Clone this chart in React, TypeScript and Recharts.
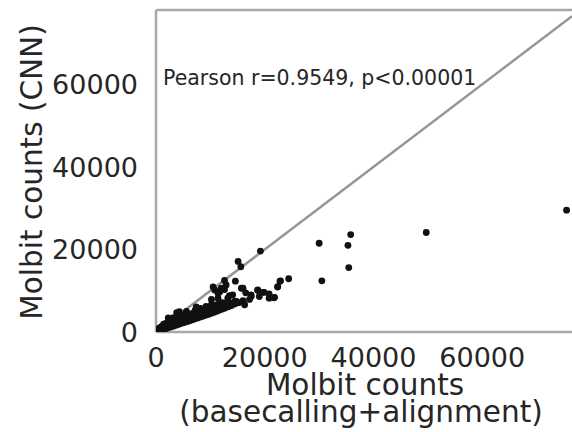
import React from "react"
import { ScatterChart, Scatter, XAxis, YAxis, ReferenceLine } from "recharts"

// outliers and the dense band near the origin
const outlierX = [75500, 49700, 35800, 35300, 30000, 35450, 30500, 24400, 22900, 19200, 15100, 15600, 22800, 22400, 12600, 14600, 10500, 11700, 12600, 16000, 16500, 18700, 19900, 21800, 17200, 13500, 14800, 16300, 10200, 11400, 4300, 2250, 10800, 12000, 11400, 12900, 20800, 17500, 19000, 22350, 18700, 19600, 20800, 21700, 17500, 15700, 14100, 13200, 3800, 5600, 7400]
const outlierY = [29500, 24100, 23600, 21000, 21500, 15600, 12400, 12900, 12400, 19600, 17100, 15800, 12300, 11000, 12500, 12300, 10900, 9700, 10300, 10600, 9500, 10200, 9600, 8400, 7900, 8800, 7400, 6600, 7900, 8200, 4900, 3400, 10200, 10600, 9400, 11400, 8200, 8600, 8600, 10900, 10100, 9600, 9200, 8300, 9000, 10600, 9000, 8200, 4700, 5000, 6100]

const bandX = [
  200, 200,
  600, 600, 600,
  1000, 1000, 1000,
  1400, 1400, 1400, 1400,
  1800, 1800, 1800, 1800,
  2200, 2200, 2200, 2200,
  2700, 2700, 2700, 2700,
  3200, 3200, 3200, 3200, 3200,
  3700, 3700, 3700, 3700,
  4200, 4200, 4200, 4200,
  4700, 4700, 4700, 4700, 4700,
  5200, 5200, 5200, 5200,
  5700, 5700, 5700, 5700, 5700,
  6200, 6200, 6200, 6200,
  6700, 6700, 6700, 6700,
  7200, 7200, 7200, 7200, 7200,
  7700, 7700, 7700, 7700,
  8200, 8200, 8200, 8200, 8200,
  8700, 8700, 8700, 8700,
  9200, 9200, 9200, 9200, 9200,
  9700, 9700, 9700, 9700,
  10200, 10200, 10200, 10200, 10200,
  10700, 10700, 10700, 10700,
  11200, 11200, 11200, 11200,
  11700, 11700, 11700, 11700,
  12200, 12200, 12200, 12200,
  12700, 12700, 12700,
  13300, 13300, 13300,
  13900, 13900,
  14500, 14500,
  15200, 16000,
]
const bandY = [
  150, 500,
  300, 650, 1000,
  450, 850, 1300,
  650, 1050, 1500, 1900,
  800, 1250, 1700, 2100,
  1000, 1450, 1900, 2400,
  1200, 1700, 2200, 2700,
  1400, 1900, 2400, 2900, 3500,
  1650, 2150, 2650, 3100,
  1850, 2350, 2850, 3400,
  2100, 2600, 3100, 3600, 4100,
  2300, 2800, 3300, 3800,
  2500, 3000, 3500, 4000, 4400,
  2750, 3250, 3750, 4200,
  2950, 3450, 3950, 4500,
  3200, 3700, 4200, 4700, 5300,
  3400, 3900, 4400, 4900,
  3650, 4150, 4650, 5150, 5700,
  3850, 4350, 4850, 5400,
  4100, 4600, 5100, 5600, 6200,
  4300, 4800, 5300, 5800,
  4550, 5050, 5550, 6100, 6700,
  4800, 5300, 5800, 6300,
  5050, 5550, 6050, 6600,
  5300, 5800, 6300, 6900,
  5550, 6050, 6550, 7100,
  5800, 6300, 6850,
  6100, 6700, 7300,
  6400, 7000,
  6800, 7500,
  7100, 7600,
]

const xTicks = [0, 20000, 40000, 60000]
const yTicks = [0, 20000, 40000, 60000]
const xMax = 76500
const yMax = 78000

const points = [
  ...bandX.map((x, i) => ({ x, y: bandY[i] })),
  ...outlierX.map((x, i) => ({ x, y: outlierY[i] })),
]
const diagonal = [
  { x: 0, y: 0 },
  { x: xMax, y: xMax },
]

const FONT = "DejaVu Sans"
const TEXT = "#262626"
const SPINE = "#a8a8a8"

const XTick = ({ x, payload }: any) => (
  <text x={x} y={367} textAnchor="middle" fontSize={27} fontFamily={FONT} fill={TEXT}>
    {payload.value}
  </text>
)

const YTick = ({ y, payload }: any) => (
  <text x={138} y={y + 10} textAnchor="end" fontSize={27} fontFamily={FONT} fill={TEXT}>
    {payload.value}
  </text>
)

const XLabel = () => (
  <g fontFamily={FONT} fill={TEXT}>
    <text x={365} y={394.5} textAnchor="middle" fontSize={29.5}>
      Molbit counts
    </text>
    <text x={361} y={421.5} textAnchor="middle" fontSize={29.5}>
      (basecalling+alignment)
    </text>
    <text x={163} y={85} fontSize={20.5}>
      Pearson r=0.9549, p&lt;0.00001
    </text>
  </g>
)

const YLabel = () => (
  <text
    x={42}
    y={172}
    transform="rotate(-90 42 172)"
    textAnchor="middle"
    fontSize={29.5}
    fontFamily={FONT}
    fill={TEXT}
  >
    Molbit counts (CNN)
  </text>
)

export default function App() {
  return (
    <div style={{ position: "absolute", left: 0, top: 0, background: "#fff" }}>
      <ScatterChart width={572} height={432} margin={{ top: 10, right: 0, bottom: 0, left: 0 }}>
        <XAxis
          type="number"
          dataKey="x"
          domain={[0, xMax]}
          ticks={xTicks}
          height={100}
          tickLine={false}
          axisLine={{ stroke: SPINE, strokeWidth: 2.5 }}
          tick={<XTick />}
          label={{ content: () => <XLabel /> }}
          allowDataOverflow
        />
        <YAxis
          type="number"
          dataKey="y"
          domain={[0, yMax]}
          ticks={yTicks}
          width={156}
          tickLine={false}
          axisLine={{ stroke: SPINE, strokeWidth: 2.5 }}
          tick={<YTick />}
          label={{ content: () => <YLabel /> }}
          allowDataOverflow
        />
        <ReferenceLine y={yMax} stroke={SPINE} strokeWidth={2.5} />
        <Scatter
          data={diagonal}
          line={{ stroke: "#959595", strokeWidth: 2.5 }}
          shape={() => <g />}
          isAnimationActive={false}
          legendType="none"
        />
        <Scatter
          data={points}
          shape={(p: any) => <circle cx={p.cx} cy={p.cy} r={3.4} fill="#111111" />}
          isAnimationActive={false}
        />
      </ScatterChart>
    </div>
  )
}
